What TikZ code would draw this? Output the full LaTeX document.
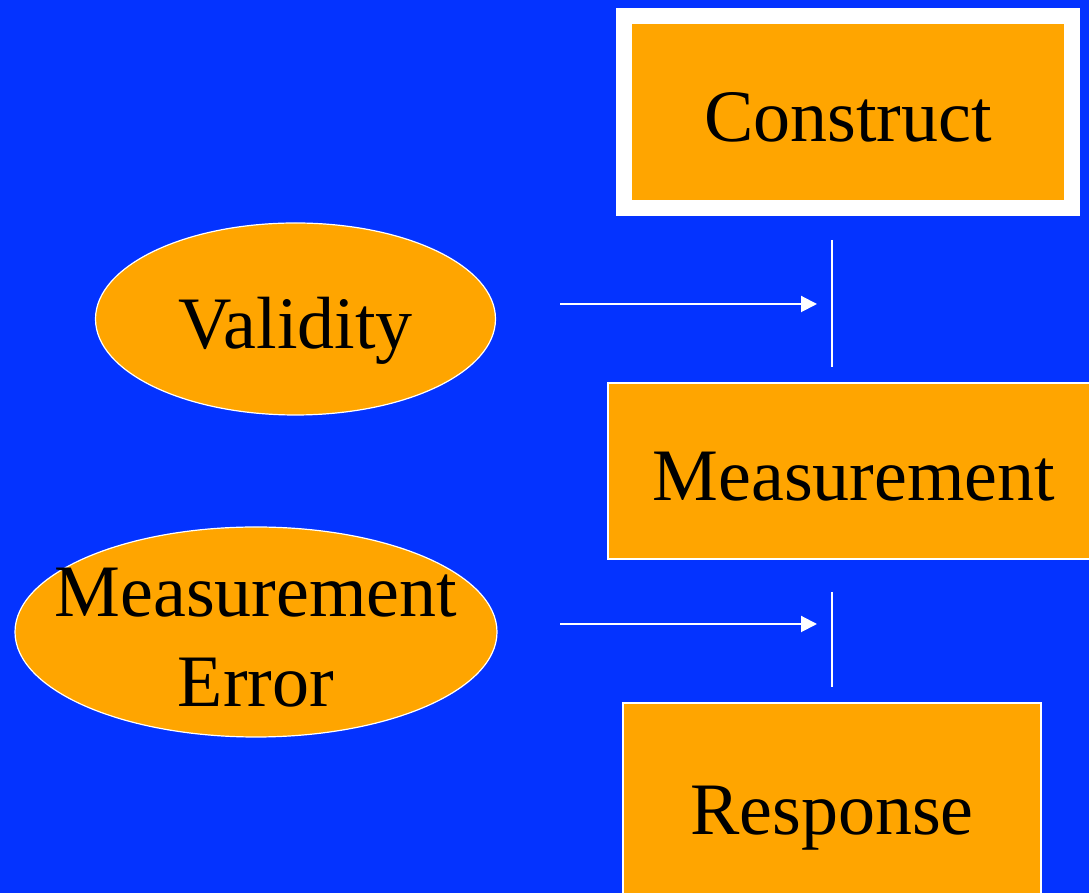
\documentclass[tikz,border=0pt]{standalone}
\usepackage{fontspec}
\setmainfont{Liberation Serif}
\usepackage{tikz}
\usetikzlibrary{arrows.meta,positioning,calc,shapes.geometric}
\usepackage{xcolor}
\definecolor{slideblue}{HTML}{0433FF}
\definecolor{boxorange}{HTML}{FFA500}

\tikzset{
  big/.style={font=\fontsize{74}{90}\selectfont,text height=59pt,text depth=0pt},
  stagebox/.style={big,draw=white,fill=boxorange,line width=1.5pt,inner sep=0pt},
  oval/.style={ellipse,draw=white,fill=boxorange,line width=1.2pt,inner sep=0pt},
  link/.style={white,line width=2pt,-{Triangle[length=16pt,width=16pt]}},
  tick/.style={white,line width=2pt}
}

\begin{document}
\begin{tikzpicture}[x=1pt,y=1pt]
\useasboundingbox (0,0) rectangle (1089,893);
\fill[slideblue] (0,0) rectangle (1089,893);
\clip (0,0) rectangle (1089,893);
% the three stages, top to bottom
\node[stagebox,line width=16pt,minimum width=448pt,minimum height=192pt] (construct) at (848,781) {Construct};
\node[stagebox,minimum width=492pt,minimum height=176pt] (measure) at (854,422) {Measurement};
\node[stagebox,minimum width=418pt,minimum height=204pt] (response) at (832,88) {Response};
% what happens between them
\node[oval,big,minimum width=400pt,minimum height=192pt] (valid) at (295.5,574) {Validity};
\node[oval,minimum width=482pt,minimum height=210pt] (err) at (256,261) {};
% two lines sit low in the oval
\node[big,align=center,yshift=-45pt] (errtext) at (err) {Measurement\\Error};
% gaps between the stages
\coordinate (gapA top) at (832,653);
\coordinate (gapA bot) at (832,526);
\coordinate (gapB top) at (832,301);
\coordinate (gapB bot) at (832,206);
\draw[tick] (gapA top) -- (gapA bot);
\draw[tick] (gapB top) -- (gapB bot);
% arrows into the gaps
\coordinate (validfrom) at (560,589);
\coordinate (validto) at (817,589);
\coordinate (errfrom) at (560,269);
\coordinate (errto) at (817,269);
\draw[link] (validfrom) -- (validto);
\draw[link] (errfrom) -- (errto);
\end{tikzpicture}
\end{document}
